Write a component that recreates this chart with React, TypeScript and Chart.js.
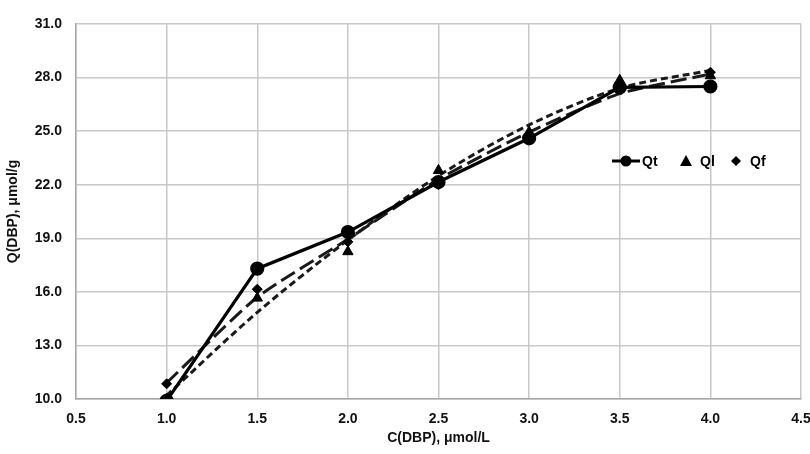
import React, { useEffect, useRef } from "react";
import { Chart, registerables } from "chart.js";

Chart.register(...registerables);

const cValues = [1.0, 1.5, 2.0, 2.5, 3.0, 3.5, 4.0];
const qtValues = [9.9, 17.3, 19.35, 22.15, 24.6, 27.45, 27.5];
const qlValues = [10.0, 15.65, 18.25, 22.8, 24.95, 27.85, 28.1];
const qfValues = [10.85, 16.15, 18.8, 22.0, 24.7, 27.4, 28.3];
const fitShortDash = [10.2, 14.85, 18.9, 22.5, 25.35, 27.4, 28.4];
const fitLongDash = [10.9, 15.7, 18.95, 22.3, 24.95, 27.1, 28.2];

const xTicks = [0.5, 1.0, 1.5, 2.0, 2.5, 3.0, 3.5, 4.0, 4.5];
const yTicks = [10, 13, 16, 19, 22, 25, 28, 31];

const FONT = '"Liberation Sans", Arial, sans-serif';

const pts = (ys: number[]) => cValues.map((x, i) => ({ x, y: ys[i] }));

const legendPlugin = {
  id: "insideLegend",
  afterDraw(chart: any) {
    const { ctx, chartArea } = chart;
    const cy = chartArea.top + 137;
    const x0 = chartArea.left + 536;
    ctx.save();
    ctx.fillStyle = "#000";
    ctx.strokeStyle = "#000";
    ctx.lineWidth = 3;
    ctx.beginPath();
    ctx.moveTo(x0, cy);
    ctx.lineTo(x0 + 28, cy);
    ctx.stroke();
    ctx.beginPath();
    ctx.arc(x0 + 14, cy, 5.5, 0, Math.PI * 2);
    ctx.fill();
    ctx.font = `bold 14px ${FONT}`;
    ctx.textBaseline = "middle";
    ctx.fillText("Qt", x0 + 30, cy + 1);
    const tx = x0 + 74;
    ctx.beginPath();
    ctx.moveTo(tx, cy - 6);
    ctx.lineTo(tx + 6, cy + 5);
    ctx.lineTo(tx - 6, cy + 5);
    ctx.closePath();
    ctx.fill();
    ctx.fillText("Ql", tx + 14, cy + 1);
    const dx = x0 + 124;
    ctx.beginPath();
    ctx.moveTo(dx, cy - 5);
    ctx.lineTo(dx + 5, cy);
    ctx.lineTo(dx, cy + 5);
    ctx.lineTo(dx - 5, cy);
    ctx.closePath();
    ctx.fill();
    ctx.fillText("Qf", dx + 14, cy + 1);
    ctx.restore();
  },
};

export default function App() {
  const ref = useRef<HTMLCanvasElement | null>(null);

  useEffect(() => {
    document.body.style.margin = "0";
    if (!ref.current) return;
    const chart = new Chart(ref.current, {
      type: "scatter",
      data: {
        datasets: [
          {
            label: "Ql",
            data: pts(qlValues),
            showLine: false,
            borderColor: "#000",
            backgroundColor: "#000",
            pointStyle: "triangle",
            pointRadius: 6,
            order: 1,
          },
          {
            label: "Qt",
            data: pts(qtValues),
            showLine: true,
            borderColor: "#000",
            backgroundColor: "#000",
            borderWidth: 3.2,
            pointStyle: "circle",
            pointRadius: 5.5,
            tension: 0,
            clip: { left: 8, right: 8, top: 8, bottom: 0 },
            order: 2,
          },
          {
            label: "Qf",
            data: pts(qfValues),
            showLine: false,
            borderColor: "#000",
            backgroundColor: "#000",
            pointStyle: "rectRot",
            pointRadius: 5,
            order: 3,
          },
          {
            label: "fitShort",
            data: pts(fitShortDash),
            showLine: true,
            borderColor: "#1a1a1a",
            borderWidth: 3,
            borderDash: [7, 4],
            pointRadius: 0,
            tension: 0.3,
            order: 4,
          },
          {
            label: "fitLong",
            data: pts(fitLongDash),
            showLine: true,
            borderColor: "#1a1a1a",
            borderWidth: 3,
            borderDash: [16, 6],
            pointRadius: 0,
            tension: 0.2,
            order: 5,
          },
        ],
      },
      options: {
        animation: false,
        responsive: false,
        maintainAspectRatio: false,
        layout: { padding: { left: 0, right: 9, top: 24, bottom: 0 } },
        plugins: {
          legend: { display: false },
          tooltip: { enabled: false },
        },
        scales: {
          x: {
            type: "linear",
            min: 0.5,
            max: 4.5,
            afterBuildTicks: (s: any) => {
              s.ticks = xTicks.map((v) => ({ value: v }));
            },
            afterFit: (s: any) => {
              s.height = 55;
              s.paddingLeft = 0;
              s.paddingRight = 0;
            },
            grid: { color: "#c8c8c8", lineWidth: 1.5, drawTicks: false },
            border: { color: "#a8a8a8", width: 1.5 },
            ticks: {
              color: "#111",
              font: { family: FONT, size: 14, weight: "bold" },
              padding: 12,
              maxRotation: 0,
              callback: (v: any) => Number(v).toFixed(1),
            },
            title: {
              display: true,
              text: "C(DBP), μmol/L",
              color: "#111",
              font: { family: FONT, size: 14, weight: "bold" },
              padding: { top: 4, bottom: 7 },
            },
          },
          y: {
            type: "linear",
            min: 10,
            max: 31,
            afterBuildTicks: (s: any) => {
              s.ticks = yTicks.map((v) => ({ value: v }));
            },
            afterFit: (s: any) => {
              s.width = 76;
              s.paddingTop = 0;
              s.paddingBottom = 0;
            },
            grid: { color: "#c8c8c8", lineWidth: 1.5, drawTicks: false },
            border: { color: "#a8a8a8", width: 1.5 },
            ticks: {
              color: "#111",
              font: { family: FONT, size: 14, weight: "bold" },
              padding: 14,
              callback: (v: any) => Number(v).toFixed(1),
            },
            title: {
              display: true,
              text: "Q(DBP), μmol/g",
              color: "#111",
              font: { family: FONT, size: 14, weight: "bold" },
              padding: { top: 5, bottom: 0 },
            },
          },
        },
      },
      plugins: [legendPlugin],
    } as any);
    return () => chart.destroy();
  }, []);

  return (
    <div style={{ width: 810, height: 454 }}>
      <canvas ref={ref} width={810} height={454} style={{ display: "block" }} />
    </div>
  );
}
